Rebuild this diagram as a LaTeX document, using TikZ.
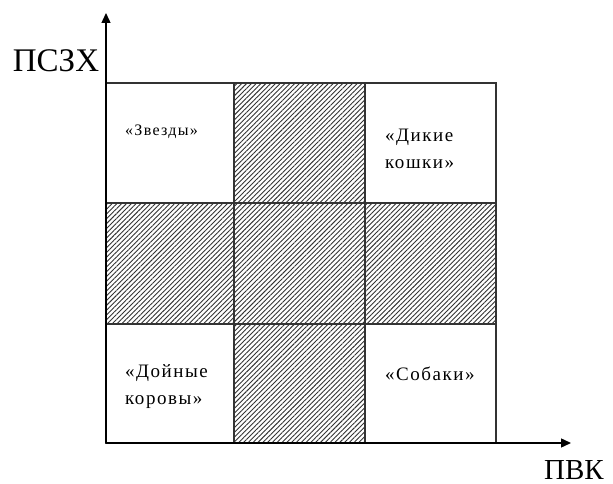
\documentclass[tikz,border=0pt]{standalone}
\usepackage{fontspec}
\setmainfont{Liberation Serif}
\newfontfamily\widefont[LetterSpace=8]{Liberation Serif}
\usetikzlibrary{patterns.meta,arrows.meta}
\begin{document}
\begin{tikzpicture}[x=1pt,y=-1pt,
  cell/.style={draw=black!80,line width=1.2pt},
  hatch/.style={cell,pattern={Lines[angle=45,distance=3.4pt,line width=0.9pt]},pattern color=black!80},
  lbl/.style={font=\widefont\fontsize{19}{27}\selectfont,align=left,anchor=west,inner sep=0pt},
  slbl/.style={lbl,font=\widefont\fontsize{16}{27}\selectfont},
  axlbl/.style={font=\fontsize{33}{34}\selectfont,inner sep=0pt},
  axis/.style={line width=1.4pt,-{Triangle[length=10pt,width=9pt]}}]
\useasboundingbox (0,0) rectangle (613,484);
% cells
\draw[cell] (106,83) rectangle (234,203);
\draw[hatch] (234,83) rectangle (365,203);
\draw[cell] (365,83) rectangle (496,203);
\draw[hatch] (106,203) rectangle (234,324);
\draw[hatch] (234,203) rectangle (365,324);
\draw[hatch] (365,203) rectangle (496,324);
\draw[cell] (106,324) rectangle (234,443);
\draw[hatch] (234,324) rectangle (365,443);
\draw[cell] (365,324) rectangle (496,443);
% axes
\coordinate (o) at (106,443);
\coordinate (ytip) at (106,13);
\coordinate (xtip) at (571,443);
\draw[axis] (o) -- (ytip);
\draw[axis] (o) -- (xtip);
\node[axlbl] (ylab) at (56,61) {ПСЗХ};
\node[axlbl,font=\fontsize{29}{30}\selectfont,anchor=base west] (xlab) at (544,479) {ПВК};
% cell labels
\node[slbl] (stars) at (125,132) {«Звезды»};
\node[lbl] (cats) at (385,148.5) {«Дикие\\кошки»};
\node[lbl] (cows) at (125,386.5) {«Дойные\\коровы»};
\node[lbl] (dogs) at (385,374) {«Собаки»};
\end{tikzpicture}
\end{document}
